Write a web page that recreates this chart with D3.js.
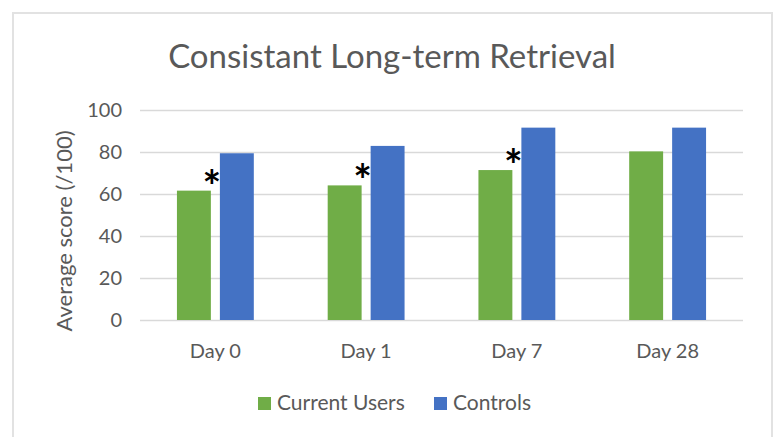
<!DOCTYPE html>
<html>
<head>
<meta charset="utf-8">
<script src="https://cdn.jsdelivr.net/npm/d3@7"></script>
<style>
  body { margin: 0; background: #fff; }
  text { font-family: Lato, "Open Sans", sans-serif; }
</style>
</head>
<body>
<script>
// chart data
var days = ["Day 0", "Day 1", "Day 7", "Day 28"];
var series = ["Current Users", "Controls"];
var currentUsers = [61.6, 64.1, 71.4, 80.3];
var controls = [79.4, 82.9, 91.6, 91.6];
var significant = ["Day 0", "Day 1", "Day 7"];
var yTicks = [0, 20, 40, 60, 80, 100];
var colors = ["#70ad47", "#4472c4"];

var width = 784,
	height = 437;

var margin = {top: 110, right: 41, bottom: 117, left: 140};

var svg = d3.select("body").append("svg")
	.attr("width", width)
	.attr("height", height);

// outer chart frame
svg.append("rect")
	.attr("x", 13)
	.attr("y", 13)
	.attr("width", 759)
	.attr("height", 440)
	.attr("fill", "none")
	.attr("stroke", "#e2e2e2")
	.attr("stroke-width", 2);

// title
svg.append("text")
	.attr("x", 392)
	.attr("y", 68)
	.attr("text-anchor", "middle")
	.attr("font-size", 33)
	.attr("fill", "#595959")
	.text("Consistant Long-term Retrieval");

var x0 = d3.scaleBand()
	.domain(days)
	.range([margin.left, width - margin.right]);

var x1 = d3.scaleBand()
	.domain(series)
	.range([0, x0.bandwidth()])
	.paddingInner(0.21)
	.paddingOuter(0.86);

var y = d3.scaleLinear()
	.domain([0, 100])
	.range([height - margin.bottom, margin.top]);

var yAxis = d3.axisLeft(y)
	.tickValues(yTicks)
	.tickSize(-(width - margin.left - margin.right))
	.tickPadding(18);

var gy = svg.append("g")
	.attr("transform", "translate(" + margin.left + ",0)")
	.call(yAxis);
gy.select(".domain").remove();
gy.selectAll(".tick line")
	.attr("stroke", "#d9d9d9")
	.attr("stroke-width", 1.5);
gy.selectAll(".tick text")
	.attr("font-size", 20)
	.attr("fill", "#595959")
	.attr("font-family", "Lato");

// y axis title
svg.append("text")
	.attr("transform", "translate(72," + ((y(0) + y(100)) / 2 + 16) + ") rotate(-90)")
	.attr("text-anchor", "middle")
	.attr("font-size", 22)
	.attr("fill", "#595959")
	.text("Average score (/100)");

// x labels
var xAxis = d3.axisBottom(x0).tickSize(0).tickPadding(24);
var gx = svg.append("g")
	.attr("transform", "translate(0," + y(0) + ")")
	.call(xAxis);
gx.select(".domain").remove();
gx.selectAll(".tick text")
	.attr("font-size", 20)
	.attr("fill", "#595959")
	.attr("font-family", "Lato");

// bars
var rows = days.map(function(d, i) {
	return {day: d, values: [currentUsers[i], controls[i]]};
});

var groups = svg.selectAll(".day")
	.data(rows)
	.enter()
	.append("g")
	.attr("class", "day")
	.attr("transform", function(d) { return "translate(" + x0(d.day) + ",0)"; });

groups.selectAll("rect")
	.data(function(d) {
		return d.values.map(function(v, j) { return {s: series[j], v: v, c: colors[j]}; });
	})
	.enter()
	.append("rect")
	.attr("x", function(d) { return x1(d.s); })
	.attr("y", function(d) { return y(d.v); })
	.attr("width", x1.bandwidth())
	.attr("height", function(d) { return y(0) - y(d.v); })
	.attr("fill", function(d) { return d.c; });

// significance asterisks
svg.selectAll(".star")
	.data(rows.filter(function(d) { return significant.includes(d.day); }))
	.enter()
	.append("text")
	.attr("class", "star")
	.attr("x", function(d) { return x0(d.day) + x1(series[0]) + x1.bandwidth() + 1; })
	.attr("y", function(d) { return y(d.values[0]) + 11; })
	.attr("text-anchor", "middle")
	.attr("font-size", 44)
	.attr("font-weight", "bold")
	.attr("fill", "#000")
	.text("*");

// legend
var legend = svg.append("g");
var legendX = [258, 434];
series.forEach(function(s, i) {
	legend.append("rect")
		.attr("x", legendX[i])
		.attr("y", 397)
		.attr("width", 13)
		.attr("height", 13)
		.attr("fill", colors[i]);
	legend.append("text")
		.attr("x", legendX[i] + 19)
		.attr("y", 410)
		.attr("font-size", 21)
		.attr("fill", "#595959")
		.text(s);
});
</script>
</body>
</html>
